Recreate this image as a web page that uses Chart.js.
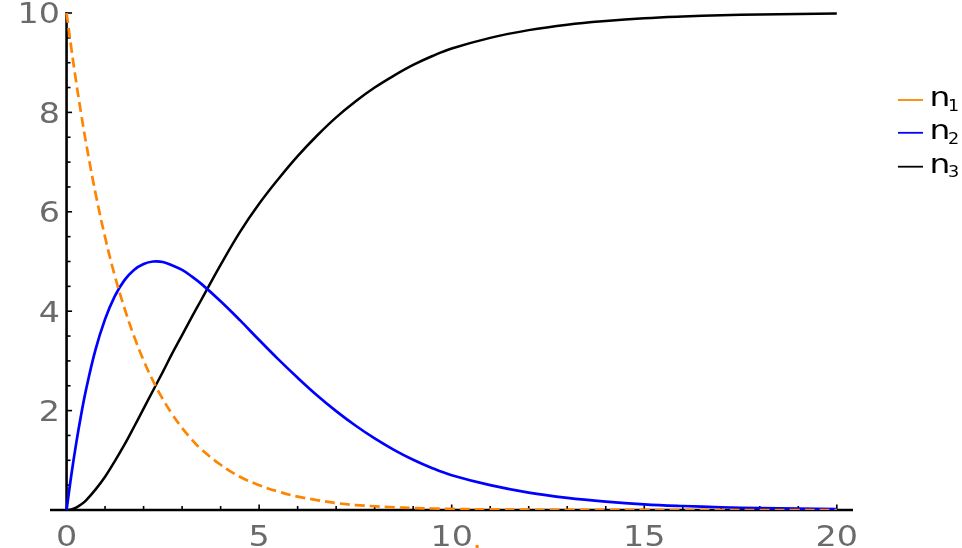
<!DOCTYPE html>
<html><head><meta charset="utf-8">
<script src="https://cdn.jsdelivr.net/npm/chart.js@4.4.1/dist/chart.umd.min.js"></script>
<style>html,body{margin:0;padding:0;background:#fff;overflow:hidden;}#wrap{width:962px;height:548px;}</style>
</head><body><div id="wrap"><canvas id="c" width="962" height="548"></canvas></div>
<script>
const tValues = [0,0.125,0.25,0.375,0.5,0.75,1,1.25,1.5,1.75,2,2.25,2.5,2.75,3,3.25,3.5,4,4.5,5,5.5,6,6.5,7,7.5,8,8.5,9,9.5,10,11,12,13,14,15,16,17,18,19,20];
const n1Values = [10,9.28,8.61,7.99,7.41,6.38,5.49,4.72,4.07,3.50,3.01,2.59,2.23,1.92,1.65,1.42,1.22,0.91,0.67,0.50,0.37,0.27,0.20,0.14,0.10,0.075,0.055,0.04,0.03,0.022,0.012,0.006,0.003,0.002,0.001,0,0,0,0,0];
const n2Values = [0,0.71,1.34,1.90,2.40,3.22,3.84,4.30,4.62,4.83,4.95,5.00,4.99,4.92,4.83,4.70,4.55,4.20,3.82,3.42,3.03,2.66,2.31,1.99,1.70,1.44,1.21,1.01,0.84,0.70,0.50,0.35,0.245,0.17,0.115,0.08,0.055,0.038,0.026,0.018];
const n3Values = [0,0.01,0.05,0.11,0.19,0.41,0.67,0.98,1.31,1.67,2.04,2.41,2.78,3.16,3.52,3.88,4.23,4.93,5.59,6.16,6.66,7.12,7.53,7.90,8.22,8.50,8.74,8.955,9.135,9.285,9.50,9.655,9.765,9.84,9.895,9.93,9.955,9.97,9.98,9.988];
const xTickValues = [0,5,10,15,20];
const xTickLabels = ['0','5','10','15','20'];
const yTickValues = [2,4,6,8,10];
const yTickLabels = ['2','4','6','8','10'];
const seriesNames = ['n','n','n'];
const seriesSubs = ['1','2','3'];
const axisLabel = 't';

const colors = ['rgb(255,132,0)','#0000ff','#000000'];
const FONT = '"DejaVu Sans", sans-serif';

function pts(ys){ return tValues.map((x,i)=>({x:x,y:ys[i]})); }

function txt(ctx, s, x, y, align, sx){
  ctx.save(); ctx.translate(x,y); ctx.scale(sx,1); ctx.textAlign=align; ctx.fillText(s,0,0); ctx.restore();
}

const axesPlugin = {
  id:'axes',
  beforeDatasetsDraw(chart){
    const ctx=chart.ctx, xs=chart.scales.x, ys=chart.scales.y, a=chart.chartArea;
    const x0=xs.getPixelForValue(0), y0=ys.getPixelForValue(0);
    ctx.save();
    ctx.strokeStyle='#000'; ctx.lineCap='butt';
    ctx.lineWidth=1.6;
    for(let v=1; v<=20; v++){
      const px=xs.getPixelForValue(v), len=(v%5===0)?5.5:4;
      ctx.beginPath(); ctx.moveTo(px,y0); ctx.lineTo(px,y0-len); ctx.stroke();
    }
    for(let v=0.5; v<=10.001; v+=0.5){
      const py=ys.getPixelForValue(v), len=(Math.abs(v%2)<1e-6)?5.5:4;
      ctx.beginPath(); ctx.moveTo(x0,py); ctx.lineTo(x0+len,py); ctx.stroke();
    }
    ctx.lineWidth=2.6;
    ctx.beginPath(); ctx.moveTo(a.left,y0); ctx.lineTo(a.right,y0); ctx.stroke();
    ctx.beginPath(); ctx.moveTo(x0,y0); ctx.lineTo(x0,ys.getPixelForValue(ys.max)); ctx.stroke();
    ctx.fillStyle='#6a6a6a'; ctx.font='29px '+FONT; ctx.textBaseline='alphabetic';
    xTickValues.forEach((v,i)=>{ txt(ctx, xTickLabels[i], xs.getPixelForValue(v), y0+35.5, 'center', 1.15); });
    yTickValues.forEach((v,i)=>{ txt(ctx, yTickLabels[i], x0-6.5, ys.getPixelForValue(v)+10.5, 'right', 1.15); });
    ctx.fillStyle=colors[0];
    txt(ctx, axisLabel, 479, 565, 'center', 1.15);
    ctx.restore();
  },
  afterDraw(chart){
    const ctx=chart.ctx;
    ctx.save();
    const lineY=[100,132.8,166.7], nBase=[106,139.3,173.3], sBase=[110.7,144,177.3];
    for(let i=0;i<3;i++){
      ctx.strokeStyle=colors[i]; ctx.lineWidth=1.8;
      ctx.beginPath(); ctx.moveTo(898,lineY[i]); ctx.lineTo(923,lineY[i]); ctx.stroke();
      ctx.fillStyle='#000';
      ctx.font='27px '+FONT; txt(ctx, seriesNames[i], 929.5, nBase[i], 'left', 1.22);
      ctx.font='16px '+FONT; txt(ctx, seriesSubs[i], 948, sBase[i], 'left', 1.1);
    }
    ctx.restore();
  }
};

new Chart(document.getElementById('c'), {
  type:'line',
  data:{ datasets:[
    {label:'n1', data:pts(n1Values), borderColor:colors[0], borderWidth:2.7, borderDash:[10,5], pointRadius:0, tension:0.4, fill:false},
    {label:'n2', data:pts(n2Values), borderColor:colors[1], borderWidth:2.7, pointRadius:0, tension:0.4, fill:false},
    {label:'n3', data:pts(n3Values), borderColor:colors[2], borderWidth:2.5, pointRadius:0, tension:0.4, fill:false}
  ]},
  options:{
    responsive:false, animation:false, events:[],
    layout:{padding:{left:50,right:109,top:12,bottom:38}},
    scales:{
      x:{type:'linear', min:-0.43, max:20.42, display:false},
      y:{type:'linear', min:0, max:10.02, display:false}
    },
    plugins:{legend:{display:false}, tooltip:{enabled:false}}
  },
  plugins:[axesPlugin]
});
</script></body></html>
